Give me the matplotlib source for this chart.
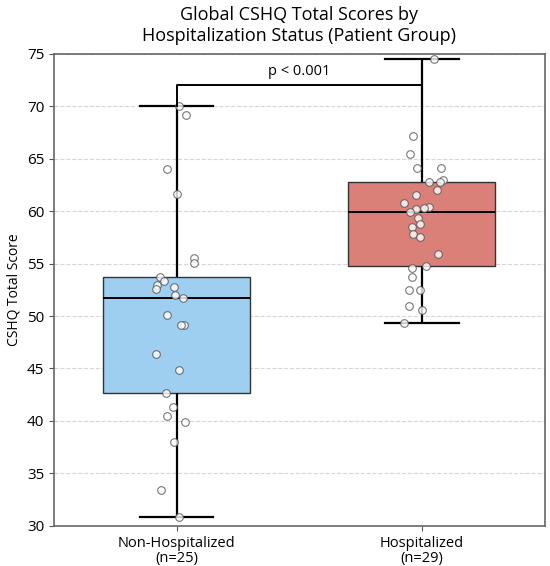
import numpy as np
import pandas as pd
import matplotlib
matplotlib.use("Agg")
import matplotlib.pyplot as plt
import seaborn as sns

# scores
non_hosp = [70.0, 69.2, 64.0, 61.6, 55.5, 55.1, 53.7, 53.3, 53.0, 52.8,
            52.6, 52.0, 51.7, 50.1, 49.1, 49.1, 46.4, 44.9, 42.7, 41.3,
            40.5, 39.9, 38.0, 33.4, 30.8]
hosp = [74.5, 67.2, 65.4, 64.1, 64.1, 63.0, 62.8, 62.8, 62.0, 61.5,
        60.8, 60.4, 60.3, 60.2, 59.9, 59.3, 58.8, 58.5, 57.8, 57.5,
        55.9, 54.8, 54.6, 53.7, 52.5, 52.5, 51.0, 50.6, 49.3]
groups = ["Non-Hospitalized", "Hospitalized"]
tick_labels = ["Non-Hospitalized\n(n=25)", "Hospitalized\n(n=29)"]
p_text = "p < 0.001"

df = pd.DataFrame({
    "group": [groups[0]] * len(non_hosp) + [groups[1]] * len(hosp),
    "score": non_hosp + hosp,
})

plt.rcParams["font.family"] = ["Open Sans", "DejaVu Sans"]

fig, ax = plt.subplots(figsize=(5.5, 5.66), dpi=100)
fig.subplots_adjust(left=0.098, right=0.99, bottom=0.071, top=0.905)

sns.boxplot(data=df, x="group", y="score", order=groups,
            palette=["#9ecff0", "#da8079"], hue="group", legend=False,
            saturation=1, width=0.6, showfliers=False, linewidth=1.0, ax=ax,
            boxprops=dict(edgecolor="#333333", zorder=2),
            whiskerprops=dict(color="black", linewidth=1.6),
            capprops=dict(color="black", linewidth=1.6),
            medianprops=dict(color="black", linewidth=1.4))

np.random.seed(3)
sns.stripplot(data=df, x="group", y="score", order=groups, jitter=0.09,
              color="white", alpha=0.8, edgecolor="#555555", linewidth=0.8,
              size=5.5, ax=ax, zorder=3)

# significance bracket
ax.plot([0, 0, 1, 1], [70.0, 72.0, 72.0, 70.0], color="black", linewidth=1.4, zorder=4)
ax.text(0.5, 73.3, p_text, ha="center", va="center", fontsize=10.5)

ax.set_ylim(30, 75)
ax.set_xlim(-0.5, 1.5)
ax.set_yticks(np.arange(30, 76, 5))
ax.set_xticks([0, 1])
ax.set_xticklabels(tick_labels, fontsize=10.5, linespacing=1.0)
ax.tick_params(axis="y", labelsize=11, color="#555555")
ax.tick_params(axis="x", color="#555555")
ax.set_xlabel("")
ax.set_ylabel("CSHQ Total Score", fontsize=10)
ax.set_title("Global CSHQ Total Scores by\nHospitalization Status (Patient Group)",
             fontsize=13, pad=9, linespacing=1.25)
ax.yaxis.grid(True, linestyle="--", color="#cccccc", linewidth=0.8, alpha=0.8)
ax.set_axisbelow(True)
for s in ax.spines.values():
    s.set_color("#666666")
    s.set_linewidth(1.2)

fig.savefig("out.png", dpi=100)
